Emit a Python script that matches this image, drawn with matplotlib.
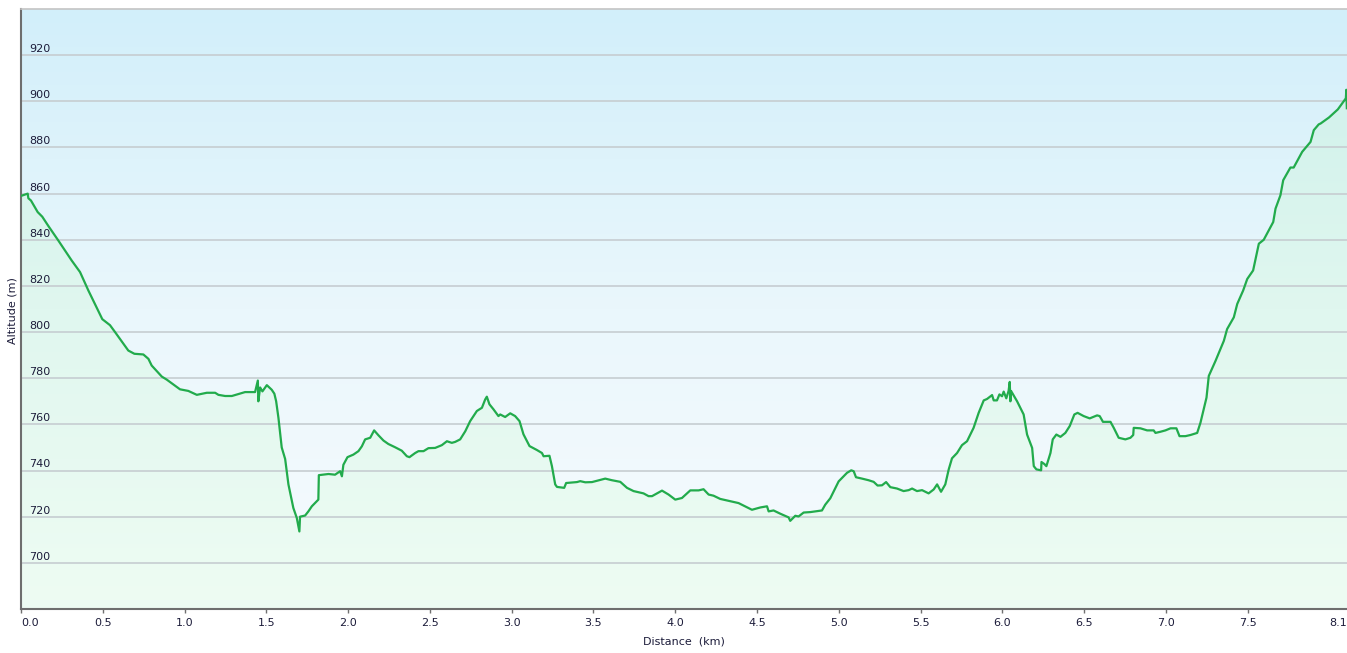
import matplotlib.pyplot as plt
import numpy as np
from matplotlib.colors import LinearSegmentedColormap

# distance (km) / altitude (m)
dist = [0.0, 0.041, 0.045, 0.061, 0.102, 0.130, 0.167, 0.228, 0.310, 0.361,
        0.412, 0.497, 0.544, 0.575, 0.656, 0.693, 0.748, 0.779, 0.799, 0.861,
        0.891, 0.972, 1.023, 1.075, 1.136, 1.187, 1.207, 1.248, 1.289, 1.370,
        1.431, 1.448, 1.451, 1.462, 1.476, 1.503, 1.533, 1.549, 1.560, 1.574,
        1.594, 1.615, 1.635, 1.665, 1.686, 1.702, 1.706, 1.737, 1.757, 1.778,
        1.818, 1.821, 1.880, 1.920, 1.951, 1.962, 1.971, 1.996, 2.032, 2.063,
        2.084, 2.104, 2.135, 2.159, 2.185, 2.216, 2.246, 2.287, 2.328, 2.359,
        2.375, 2.410, 2.430, 2.461, 2.491, 2.532, 2.573, 2.604, 2.634, 2.654,
        2.685, 2.716, 2.746, 2.787, 2.818, 2.838, 2.848, 2.864, 2.889, 2.919,
        2.930, 2.960, 2.991, 3.021, 3.048, 3.072, 3.109, 3.154, 3.185, 3.195,
        3.231, 3.246, 3.266, 3.277, 3.321, 3.333, 3.399, 3.419, 3.450, 3.491,
        3.572, 3.613, 3.664, 3.705, 3.745, 3.806, 3.837, 3.858, 3.919, 3.959,
        4.000, 4.041, 4.092, 4.143, 4.173, 4.204, 4.234, 4.275, 4.387, 4.469,
        4.520, 4.561, 4.571, 4.601, 4.642, 4.693, 4.703, 4.734, 4.754, 4.785,
        4.826, 4.876, 4.897, 4.917, 4.948, 4.999, 5.020, 5.050, 5.076, 5.091,
        5.105, 5.142, 5.182, 5.213, 5.237, 5.264, 5.289, 5.315, 5.356, 5.396,
        5.427, 5.448, 5.478, 5.509, 5.549, 5.580, 5.601, 5.625, 5.651, 5.672,
        5.692, 5.723, 5.753, 5.784, 5.824, 5.855, 5.886, 5.906, 5.937, 5.947,
        5.967, 5.982, 5.998, 6.008, 6.024, 6.038, 6.045, 6.049, 6.053, 6.090,
        6.130, 6.151, 6.182, 6.192, 6.208, 6.237, 6.239, 6.257, 6.269, 6.294,
        6.308, 6.330, 6.355, 6.385, 6.412, 6.440, 6.460, 6.497, 6.534, 6.579,
        6.595, 6.615, 6.661, 6.681, 6.711, 6.752, 6.783, 6.800, 6.803, 6.844,
        6.885, 6.925, 6.936, 6.966, 6.997, 7.028, 7.064, 7.083, 7.119, 7.150,
        7.191, 7.211, 7.248, 7.262, 7.303, 7.354, 7.374, 7.415, 7.436, 7.472,
        7.497, 7.533, 7.568, 7.598, 7.656, 7.670, 7.700, 7.717, 7.761, 7.781,
        7.833, 7.884, 7.904, 7.934, 7.946, 7.997, 8.051, 8.100, 8.103, 8.106]
alt = [859.0, 860.0, 858.0, 857.0, 852.0, 850.0, 846.0, 839.7, 831.0, 826.0,
       818.0, 805.6, 803.0, 800.0, 792.0, 790.6, 790.3, 788.4, 785.5, 780.7,
       779.4, 775.2, 774.5, 772.8, 773.7, 773.7, 772.8, 772.3, 772.3, 774.0,
       774.0, 779.0, 770.0, 776.0, 774.3, 777.0, 775.0, 773.3, 770.0, 762.8,
       750.0, 745.0, 734.0, 723.8, 719.5, 713.6, 720.0, 720.5, 722.3, 724.5,
       727.4, 738.0, 738.5, 738.2, 739.7, 737.5, 742.5, 745.8, 746.9, 748.4,
       750.5, 753.5, 754.2, 757.4, 755.3, 753.0, 751.5, 750.1, 748.6, 746.2,
       745.8, 747.6, 748.4, 748.4, 749.7, 749.8, 751.0, 752.7, 752.0, 752.4,
       753.5, 757.0, 761.4, 765.8, 767.2, 770.8, 772.0, 768.7, 766.5, 763.6,
       764.3, 763.2, 764.8, 763.6, 761.4, 755.7, 750.6, 748.9, 747.6, 746.2,
       746.4, 741.9, 734.0, 732.9, 732.5, 734.6, 735.0, 735.4, 734.9, 735.0,
       736.5, 735.8, 735.1, 732.5, 731.1, 730.1, 728.9, 728.9, 731.3, 729.6,
       727.4, 728.1, 731.4, 731.4, 731.9, 729.6, 729.1, 727.7, 725.9, 723.0,
       724.0, 724.5, 722.3, 722.7, 721.3, 719.7, 718.2, 720.4, 720.1, 721.8,
       722.0, 722.5, 722.7, 725.2, 728.0, 735.3, 736.8, 739.0, 740.1, 739.7,
       737.1, 736.5, 735.8, 735.1, 733.5, 733.6, 735.0, 732.8, 732.2, 731.1,
       731.5, 732.2, 731.1, 731.5, 730.1, 731.8, 734.0, 730.8, 734.0, 740.5,
       745.3, 747.6, 751.0, 752.7, 758.5, 765.0, 770.4, 771.0, 772.7, 770.4,
       770.4, 773.0, 772.2, 774.2, 771.3, 774.5, 778.4, 770.0, 774.5, 770.0,
       764.3, 755.6, 749.8, 741.9, 740.5, 740.1, 743.7, 742.8, 741.9, 747.6,
       753.5, 755.6, 754.6, 756.3, 759.3, 764.3, 765.0, 763.6, 762.6, 763.9,
       763.6, 761.1, 761.1, 758.5, 754.2, 753.5, 754.2, 755.4, 758.5, 758.3,
       757.4, 757.4, 756.3, 756.8, 757.4, 758.3, 758.3, 754.9, 754.9, 755.4,
       756.3, 760.7, 771.6, 781.0, 787.5, 796.2, 801.3, 806.4, 812.2, 818.0,
       823.0, 826.7, 838.3, 840.0, 847.7, 853.5, 859.3, 865.8, 871.3, 871.3,
       878.1, 882.4, 887.5, 890.0, 890.4, 893.0, 896.5, 901.3, 905.0, 897.0]

x_ticks = [0.0, 0.5, 1.0, 1.5, 2.0, 2.5, 3.0, 3.5, 4.0, 4.5, 5.0, 5.5, 6.0, 6.5, 7.0, 7.5]
x_labels = ['0.0', '0.5', '1.0', '1.5', '2.0', '2.5', '3.0', '3.5', '4.0', '4.5',
            '5.0', '5.5', '6.0', '6.5', '7.0', '7.5']
y_grid = [700, 720, 740, 760, 780, 800, 820, 840, 860, 880, 900, 920]

xmax = 8.107
ymin, ymax = 680, 940
txt_col = '#1c1c3a'

fig = plt.figure(figsize=(13.47, 6.53), dpi=100)
ax = fig.add_axes([21 / 1347, 44 / 653, 1326 / 1347, 600 / 653])

grad = np.linspace(0, 1, 256).reshape(-1, 1)
bg = LinearSegmentedColormap.from_list('bg', ['#f7fbfe', '#eaf7fc', '#d2effa'])
ax.imshow(grad, extent=[0, xmax, ymin, ymax], origin='lower', cmap=bg,
          aspect='auto', zorder=0)

fillcm = LinearSegmentedColormap.from_list('fl', ['#eefcf3', '#e0f7ef', '#cdf0eb'])
poly = ax.fill_between(dist, alt, ymin, facecolor='none', edgecolor='none')
im2 = ax.imshow(grad, extent=[0, xmax, ymin, ymax], origin='lower', cmap=fillcm,
                aspect='auto', zorder=1)
im2.set_clip_path(poly.get_paths()[0], transform=ax.transData)

for v in y_grid:
    ax.axhline(v, color='#c6cdd1', lw=1.2, zorder=2)
    ax.annotate(str(v), xy=(0, v), xycoords=('axes fraction', 'data'),
                xytext=(5.8, 2.2), textcoords='offset points', ha='left',
                va='baseline', fontsize=8, color=txt_col, zorder=4)

ax.plot(dist, alt, color='#22ab4c', lw=1.6, zorder=3)

ax.set_xlim(0, xmax)
ax.set_ylim(ymin, ymax)
ax.set_yticks([])
ax.set_xticks(x_ticks)
ax.set_xticklabels(x_labels)
ax.get_xticklabels()[0].set_ha('left')
ax.tick_params(axis='x', length=3, width=1, color='#707070', pad=3.5,
               labelsize=8, labelcolor=txt_col)
ax.annotate('8.1', xy=(1, 0), xycoords='axes fraction', xytext=(0, -6.5),
            textcoords='offset points', ha='right', va='top', fontsize=8,
            color=txt_col)

ax.spines['left'].set_color('#6e6e6e')
ax.spines['left'].set_linewidth(1.5)
ax.spines['bottom'].set_color('#6e6e6e')
ax.spines['bottom'].set_linewidth(1.5)
ax.spines['top'].set_color('#c4c4c4')
ax.spines['top'].set_linewidth(1.2)
ax.spines['right'].set_visible(False)

fig.text(13 / 1347, 1 - 311 / 653, 'Altitude (m)', rotation=90, ha='center',
         va='center', fontsize=8, color=txt_col)
fig.text(684 / 1347, 1 - 641 / 653, 'Distance  (km)', ha='center', va='center',
         fontsize=8, color=txt_col)

fig.savefig('out.png', dpi=100)
